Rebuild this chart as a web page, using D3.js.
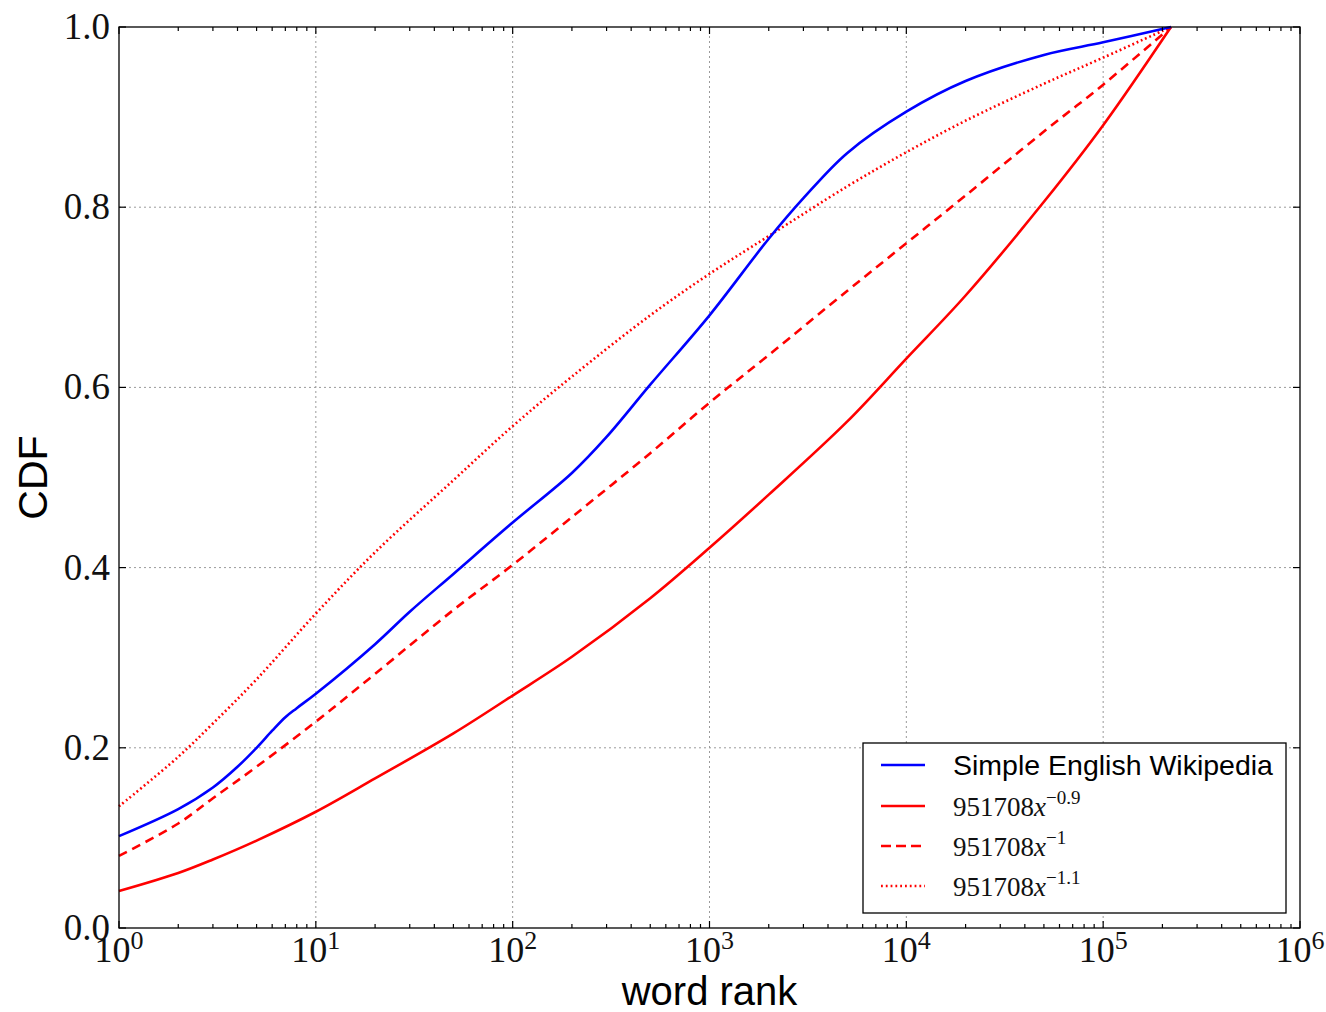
<!DOCTYPE html>
<html>
<head>
<meta charset="utf-8">
<script src="https://cdn.jsdelivr.net/npm/d3@7"></script>
<style>
  html, body { margin: 0; padding: 0; background: #fff; }
  svg { display: block; }
</style>
</head>
<body>
<svg id="chart" width="1326" height="1012"></svg>
<script>
// Word-rank CDF of Simple English Wikipedia against three power-law fits.

// ranks where the empirical CDF is sampled
const wikiRanks = [1, 2, 3, 4, 5, 6, 7, 8, 10, 20, 30, 50, 100, 200, 300, 500,
  1000, 2000, 3000, 5000, 10000, 20000, 50000, 100000, 221000];
const wikiCdf = [0.102, 0.132, 0.156, 0.179, 0.200, 0.219, 0.234, 0.244, 0.260,
  0.315, 0.351, 0.393, 0.450, 0.505, 0.545, 0.603, 0.680, 0.765, 0.810, 0.860,
  0.906, 0.940, 0.969, 0.983, 1.000];

// ranks where the power-law CDFs are sampled
const fitRanks = [1, 2, 3, 5, 10, 20, 50, 100, 200, 500, 1000, 2000, 5000,
  10000, 20000, 50000, 100000, 221000];
const fitExp09 = [0.041, 0.061, 0.076, 0.097, 0.129, 0.166, 0.216, 0.258, 0.301,
  0.366, 0.422, 0.481, 0.562, 0.632, 0.702, 0.806, 0.891, 1.000];
const fitExp10 = [0.080, 0.116, 0.144, 0.179, 0.229, 0.282, 0.353, 0.403, 0.456,
  0.527, 0.583, 0.636, 0.707, 0.760, 0.813, 0.884, 0.936, 1.000];
const fitExp11 = [0.135, 0.190, 0.227, 0.276, 0.349, 0.417, 0.497, 0.557, 0.612,
  0.680, 0.726, 0.768, 0.823, 0.861, 0.896, 0.937, 0.966, 1.000];

// axis ticks
const xMajorExps = [0, 1, 2, 3, 4, 5, 6];
const yTicks = [0.0, 0.2, 0.4, 0.6, 0.8, 1.0];
const yTickLabels = ["0.0", "0.2", "0.4", "0.6", "0.8", "1.0"];

// legend entries
const seriesNames = ["Simple English Wikipedia", "951708x^-0.9", "951708x^-1", "951708x^-1.1"];
const fitCoef = "951708";
const fitExpLabels = ["\u22120.9", "\u22121", "\u22121.1"];

const W = 1326, H = 1012;
const margin = { left: 119, top: 27, right: 26, bottom: 84 };
const x0 = margin.left, x1 = W - margin.right;
const y0 = H - margin.bottom, y1 = margin.top;

const svg = d3.select("#chart");
const x = d3.scaleLog().domain([1, 1e6]).range([x0, x1]);
const y = d3.scaleLinear().domain([0, 1]).range([y0, y1]);

const serif = "'Liberation Serif', 'DejaVu Serif', serif";
const sans = "'Liberation Sans', Arial, sans-serif";

// grid
const grid = svg.append("g").attr("stroke", "#9a9a9a").attr("stroke-width", 1)
  .attr("stroke-dasharray", "2,3").attr("fill", "none");
grid.selectAll("line.v").data(xMajorExps.slice(1, -1)).join("line")
  .attr("x1", e => x(Math.pow(10, e))).attr("x2", e => x(Math.pow(10, e)))
  .attr("y1", y0).attr("y2", y1);
grid.selectAll("line.h").data(yTicks.slice(1, -1)).join("line")
  .attr("y1", d => y(d)).attr("y2", d => y(d))
  .attr("x1", x0).attr("x2", x1);

// curves
const line = d3.line().x(d => x(d[0])).y(d => y(d[1])).curve(d3.curveCatmullRom.alpha(0.5));
const zip = (a, b) => a.map((v, i) => [v, b[i]]);
const curves = svg.append("g").attr("fill", "none").attr("stroke-width", 2.6)
  .attr("stroke-linejoin", "round");
curves.append("path").datum(zip(fitRanks, fitExp11)).attr("d", line)
  .attr("stroke", "#ff0000").attr("stroke-dasharray", "1.8,2.8");
curves.append("path").datum(zip(fitRanks, fitExp10)).attr("d", line)
  .attr("stroke", "#ff0000").attr("stroke-dasharray", "9,6");
curves.append("path").datum(zip(fitRanks, fitExp09)).attr("d", line)
  .attr("stroke", "#ff0000");
curves.append("path").datum(zip(wikiRanks, wikiCdf)).attr("d", line)
  .attr("stroke", "#0000ff");

// ticks (inside, on all four sides)
const minors = [];
for (let e = 0; e < 6; e++) for (let m = 2; m <= 9; m++) minors.push(m * Math.pow(10, e));
const majors = xMajorExps.map(e => Math.pow(10, e));
const ticks = svg.append("g").attr("stroke", "#000").attr("stroke-width", 1.2);
[[y0, -1], [y1, 1]].forEach(([yy, dir]) => {
  ticks.append("g").selectAll("line").data(minors).join("line")
    .attr("x1", d => x(d)).attr("x2", d => x(d))
    .attr("y1", yy).attr("y2", yy + dir * 4);
  ticks.append("g").selectAll("line").data(majors).join("line")
    .attr("x1", d => x(d)).attr("x2", d => x(d))
    .attr("y1", yy).attr("y2", yy + dir * 7);
});
[[x0, 1], [x1, -1]].forEach(([xx, dir]) => {
  ticks.append("g").selectAll("line").data(yTicks).join("line")
    .attr("y1", d => y(d)).attr("y2", d => y(d))
    .attr("x1", xx).attr("x2", xx + dir * 7);
});

// frame
svg.append("rect").attr("x", x0).attr("y", y1).attr("width", x1 - x0).attr("height", y0 - y1)
  .attr("fill", "none").attr("stroke", "#000").attr("stroke-width", 1.3);

// y tick labels
svg.append("g").selectAll("text").data(yTicks).join("text")
  .attr("x", x0 - 9).attr("y", d => y(d) + 12)
  .attr("text-anchor", "end").attr("font-family", serif).attr("font-size", 37)
  .attr("fill", "#111")
  .text((d, i) => yTickLabels[i]);

// x tick labels 10^k
const xl = svg.append("g").selectAll("text").data(xMajorExps).join("text")
  .attr("x", e => x(Math.pow(10, e)))
  .attr("y", 962)
  .attr("text-anchor", "middle").attr("font-family", serif).attr("fill", "#111");
xl.append("tspan").attr("font-size", 36).text("10");
xl.append("tspan").attr("font-size", 26).attr("dy", -13).text(e => String(e));

// axis titles
svg.append("text").attr("x", (x0 + x1) / 2).attr("y", 1005)
  .attr("text-anchor", "middle").attr("font-family", sans).attr("font-size", 40)
  .attr("fill", "#000").text("word rank");
svg.append("text").attr("transform", `translate(47,${(y0 + y1) / 2}) rotate(-90)`)
  .attr("text-anchor", "middle").attr("font-family", sans).attr("font-size", 41)
  .attr("fill", "#000").text("CDF");

// legend
const lg = svg.append("g");
lg.append("rect").attr("x", 863).attr("y", 743).attr("width", 423).attr("height", 170)
  .attr("fill", "#fff").attr("stroke", "#000").attr("stroke-width", 1.3);
const rowY = [765, 806, 846, 886];
const legendStyles = [
  { color: "#0000ff", dash: null },
  { color: "#ff0000", dash: null },
  { color: "#ff0000", dash: "10,5" },
  { color: "#ff0000", dash: "1.8,3" }
];
seriesNames.forEach((name, i) => {
  const st = legendStyles[i];
  lg.append("line").attr("x1", 881).attr("x2", 925).attr("y1", rowY[i]).attr("y2", rowY[i])
    .attr("stroke", st.color).attr("stroke-width", 2.6)
    .attr("stroke-dasharray", st.dash);
  if (i === 0) {
    lg.append("text").attr("x", 953).attr("y", rowY[i] + 10)
      .attr("font-family", sans).attr("font-size", 28.5).attr("fill", "#000").text(name);
  } else {
    const t = lg.append("text").attr("x", 953).attr("y", rowY[i] + 10)
      .attr("font-family", serif).attr("font-size", 27).attr("fill", "#111");
    t.append("tspan").text(fitCoef);
    t.append("tspan").attr("font-style", "italic").text("x");
    t.append("tspan").attr("font-size", 19).attr("dy", -12).text(fitExpLabels[i - 1]);
  }
});
</script>
</body>
</html>
